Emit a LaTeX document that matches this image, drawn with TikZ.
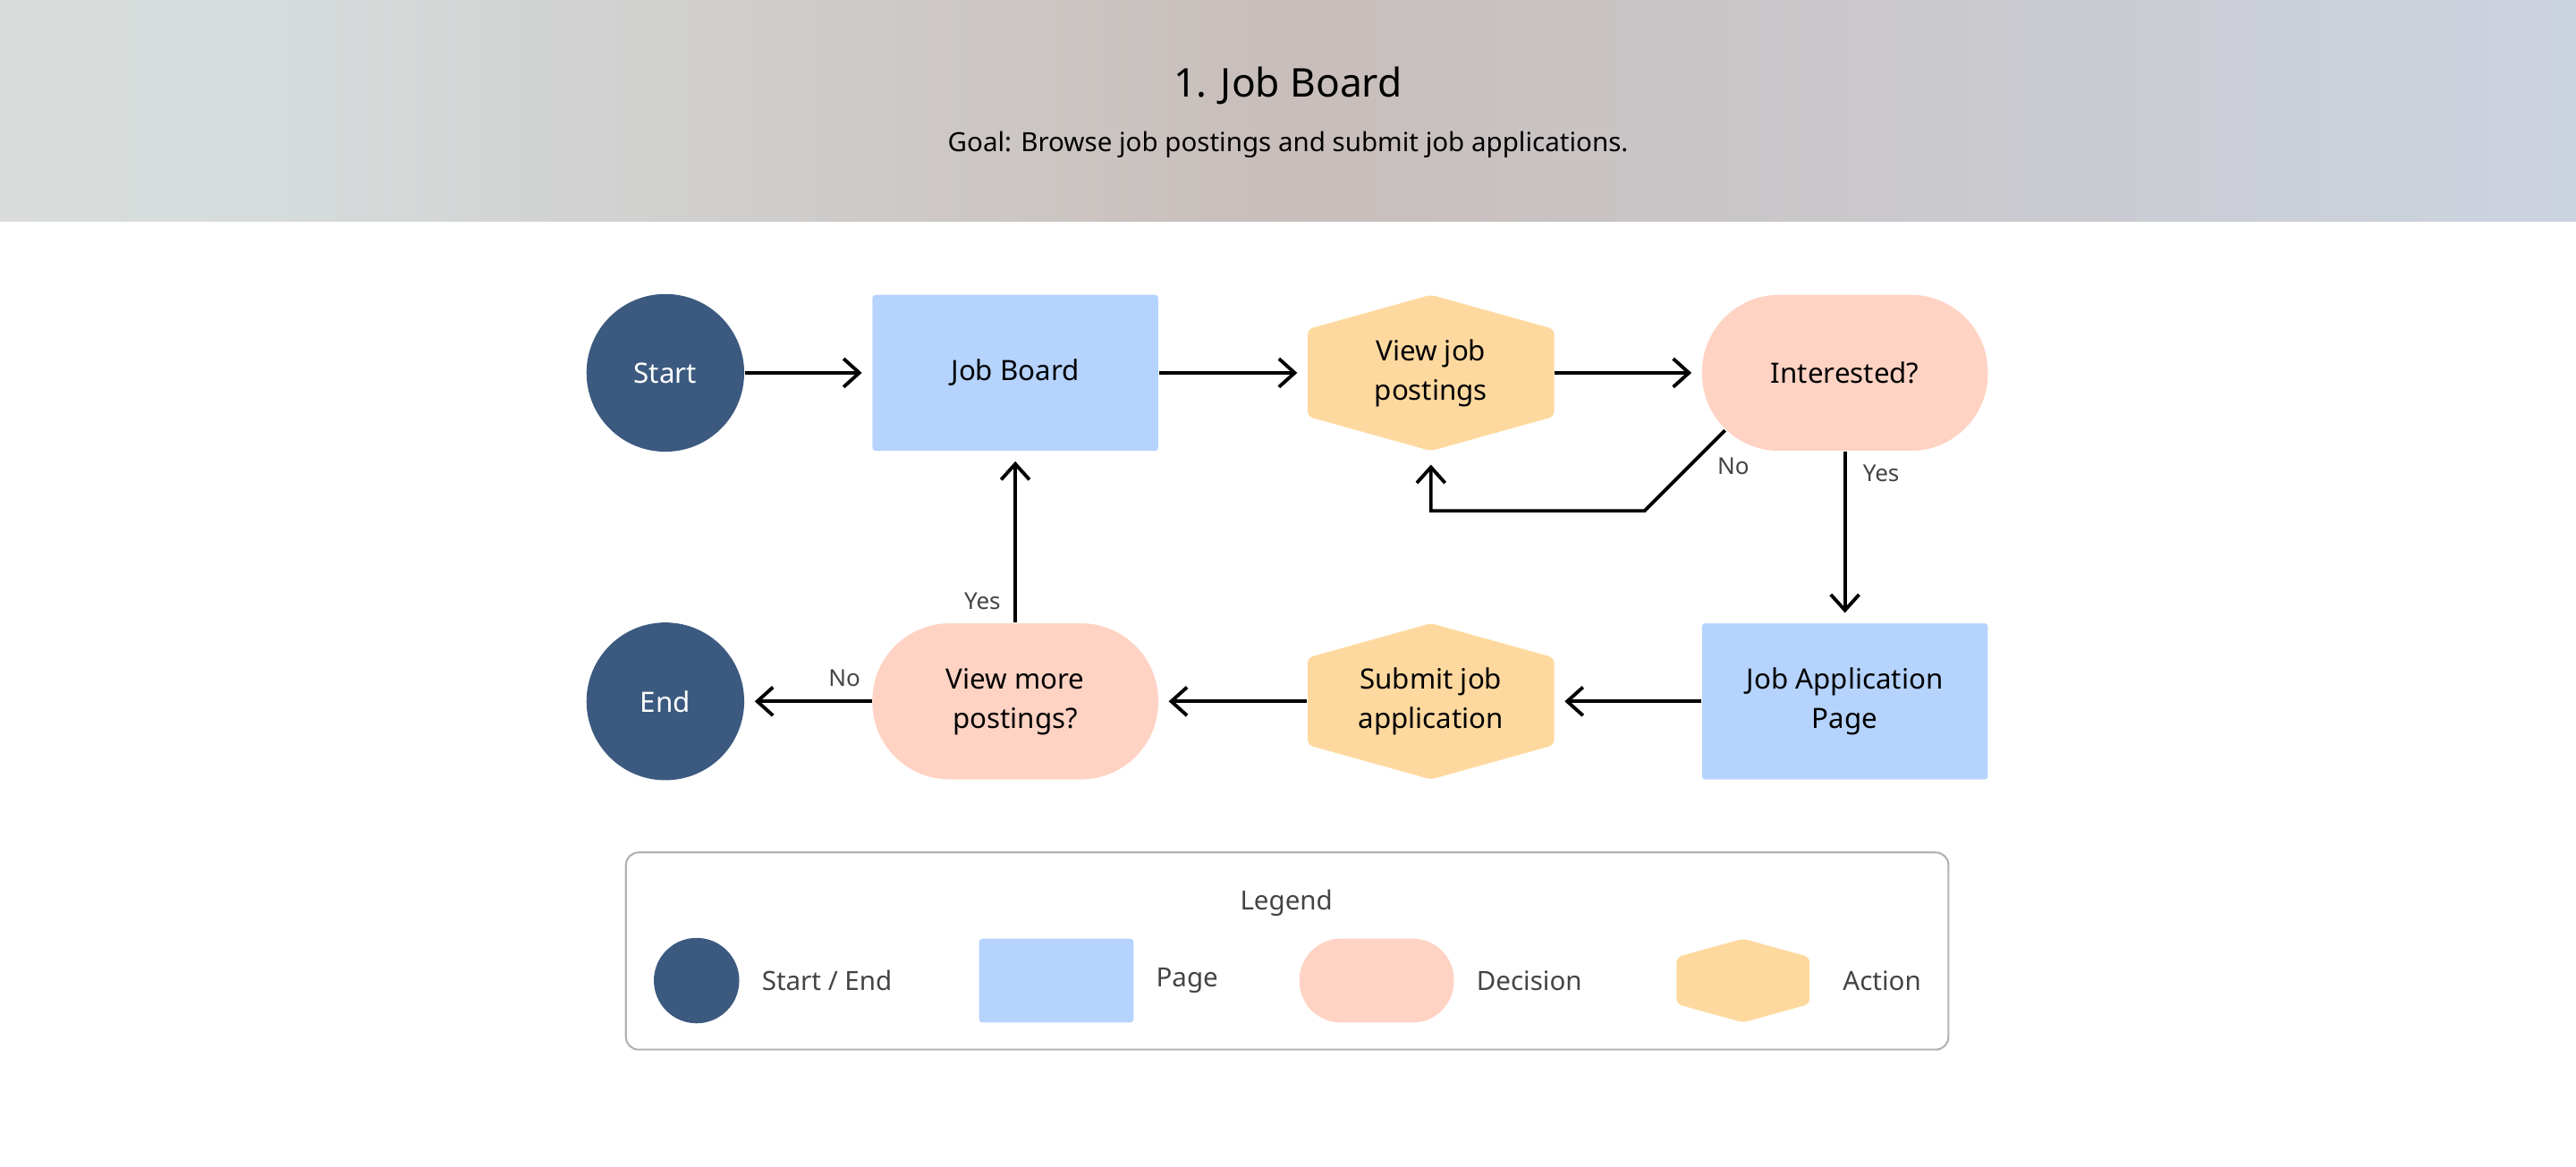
\documentclass[tikz,border=0pt]{standalone}
\usepackage{fontspec}
\setmainfont{Noto Sans}
\usetikzlibrary{positioning,calc,arrows.meta}
\def\px{0.18367mm}
\definecolor{startc}{HTML}{3C5A80}
\definecolor{pagec}{HTML}{B5D3FD}
\definecolor{decisionc}{HTML}{FFD3C4}
\definecolor{actionc}{HTML}{FED99F}
\definecolor{labelc}{HTML}{444444}
\definecolor{headA}{HTML}{E7DFD6}
\definecolor{headB}{HTML}{D6DCDC}
\definecolor{headC}{HTML}{C8BEBB}
\definecolor{headD}{HTML}{CCD4E0}
\definecolor{headE}{HTML}{B5B8BF}
\pgfdeclarehorizontalshading{headershade}{100bp}{
  color(0bp)=(headA); color(30bp)=(headB); color(50bp)=(headC);
  color(75bp)=(headD); color(100bp)=(headE)}
\tikzset{
  every neuron/.style={font=\fontsize{8.9pt}{12.5pt}\selectfont, align=center, inner sep=0pt},
  terminal/.style={every neuron, circle, fill=startc, text=white, font=\fontsize{8.9pt}{12pt}\selectfont\bfseries, minimum size=96*\px},
  page/.style={every neuron, rectangle, fill=pagec, rounded corners=1pt, minimum width=174*\px, minimum height=95*\px},
  decision/.style={every neuron, rectangle, fill=decisionc, rounded corners=47*\px, minimum width=174*\px, minimum height=95*\px},
  action/.style={every neuron, rectangle, minimum width=150*\px, minimum height=95*\px,
    path picture={\fill[actionc, rounded corners=1.5pt]
      (path picture bounding box.north)
      -- ($(path picture bounding box.north east)!0.22!(path picture bounding box.south east)$)
      -- ($(path picture bounding box.north east)!0.78!(path picture bounding box.south east)$)
      -- (path picture bounding box.south)
      -- ($(path picture bounding box.north west)!0.78!(path picture bounding box.south west)$)
      -- ($(path picture bounding box.north west)!0.22!(path picture bounding box.south west)$)
      -- cycle;}},
  flow/.style={-{Straight Barb[length=5pt,width=9pt]}, line width=1.1pt, shorten >=6*\px},
  branch/.style={text=labelc, font=\fontsize{7.4pt}{9pt}\selectfont},
  legend text/.style={text=labelc, font=\fontsize{8.4pt}{10pt}\selectfont, anchor=west}
}
\begin{document}
\begin{tikzpicture}[x=\px, y=-\px]
  \useasboundingbox (0,0) rectangle (1568,710);

  % header
  \shade[shading=headershade] (0,0) rectangle (1568,135);
  \node [font=\fontsize{12.6pt}{14pt}\selectfont\bfseries] (title) at (784,52) {1. Job Board};
  \node [font=\fontsize{8.4pt}{10pt}\selectfont] (goal) at (784,88) {\textbf{Goal:} Browse job postings and submit job applications.};

  % first row
  \node [terminal] (start) at (405,227) {Start};
  \node [page] (board) at (618,227) {Job Board};
  \node [action] (view) at (871,227) {View job\\postings};
  \node [decision] (interested) at (1123,227) {Interested?};

  % second row
  \node [terminal] (end) at (405,427) {End};
  \node [decision] (more) at (618,427) {View more\\postings?};
  \node [action] (submit) at (871,427) {Submit job\\application};
  \node [page] (apply) at (1123,427) {Job Application\\Page};

  \coordinate (no-a) at (1050,262);
  \coordinate (no-b) at (1001,311);
  \coordinate (no-c) at (871,311);

  \draw [flow] (start) -- (board);
  \draw [flow] (board) -- (view);
  \draw [flow] (view) -- (interested);
  \draw [flow] (interested) -- (apply);
  \draw [flow, shorten >=8*\px] (no-a) -- (no-b) -- (no-c) -- (view);
  \draw [flow] (apply) -- (submit);
  \draw [flow] (submit) -- (more);
  \draw [flow] (more) -- (end);
  \draw [flow] (more) -- (board);

  \node [branch] at (1145,288) {Yes};
  \node [branch] at (1055,284) {No};
  \node [branch] at (514,413) {No};
  \node [branch] at (598,366) {Yes};

  % legend
  \draw [draw=black!30, line width=0.6pt, rounded corners=4pt] (381,519) rectangle (1186,639);
  \node [text=labelc, font=\fontsize{8.4pt}{10pt}\selectfont\bfseries] (legend) at (783,550) {Legend};
  \node [terminal, minimum size=52*\px] (key-start) at (424,597) {};
  \node [page, minimum width=94*\px, minimum height=51*\px] (key-page) at (643,597) {};
  \node [decision, minimum width=94*\px, minimum height=51*\px, rounded corners=25*\px] (key-decision) at (838,597) {};
  \node [action, minimum width=81*\px, minimum height=51*\px] (key-action) at (1061,597) {};
  \node [legend text] at (457,597) {Start / End};
  \node [legend text] at (697,597) {Page};
  \node [legend text] at (892,597) {Decision};
  \node [legend text] at (1115,597) {Action};
\end{tikzpicture}
\end{document}
